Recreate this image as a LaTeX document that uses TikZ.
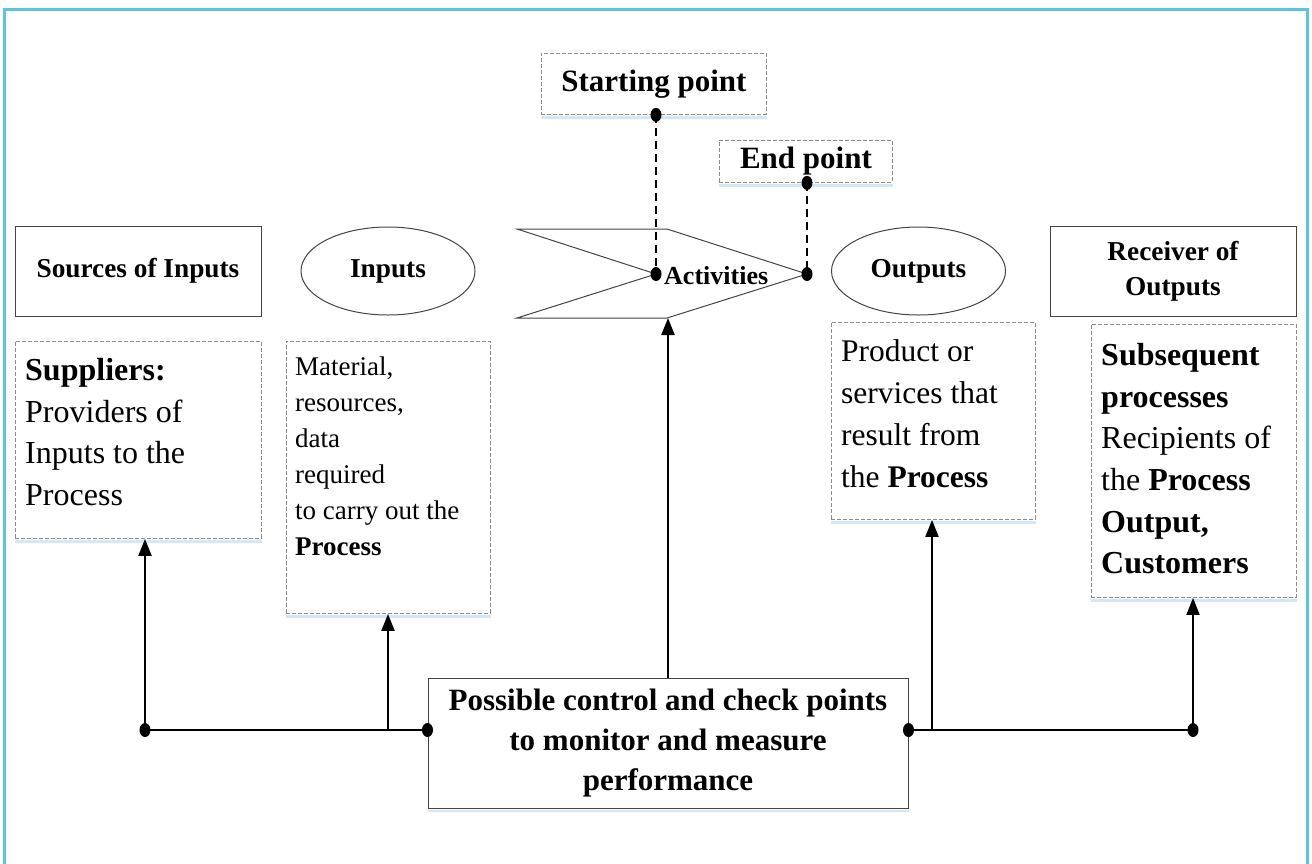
\documentclass[tikz,border=0pt]{standalone}
\usepackage{fontspec}
\setmainfont{Liberation Serif}
\usetikzlibrary{arrows.meta,shapes.geometric}
\definecolor{framecol}{HTML}{5BC5DB}
\definecolor{boxline}{HTML}{444444}
\definecolor{dashline}{HTML}{8C8C8C}
\definecolor{shadowcol}{HTML}{D5E6F4}
\begin{document}
\begin{tikzpicture}[x=1pt,y=-1pt,
  sbox/.style={draw=boxline, line width=1pt, inner sep=0pt, align=center},
  dbox/.style={draw=dashline, dash pattern=on 4pt off 2pt, line width=0.9pt, inner sep=0pt, anchor=north west},
  ell/.style={ellipse, draw=boxline, line width=1pt, minimum width=174pt, minimum height=88pt, inner sep=0pt},
  dot/.style={ellipse, fill=black, inner sep=0pt, minimum width=11pt, minimum height=14pt},
  conn/.style={line width=2.4pt},
  arr/.style={line width=2pt, -{Triangle[width=13pt,length=17pt]}},
  dline/.style={line width=2.2pt, dash pattern=on 8pt off 5pt},
  shd/.style={shadowcol, line width=2.5pt},
  txt/.style={anchor=north west, align=left, inner sep=0pt},
  hfont/.style={font=\fontsize{27.3}{35}\selectfont\bfseries},
  bfont/.style={font=\fontsize{31}{40}\selectfont\bfseries}]
\useasboundingbox (0,0) rectangle (1312,863);
\clip (0,0) rectangle (1312,863);
\draw[framecol, line width=3pt] (4.5,9.5) rectangle (1307.5,900);

% header row
\node[sbox, hfont, minimum width=246pt, minimum height=90pt] (src) at (138,271) {Sources of Inputs};
\node[ell, hfont] (inp) at (388,271) {Inputs};
\node[ell, hfont] (outp) at (918.5,271) {Outputs};
\node[sbox, hfont, minimum width=246pt, minimum height=90pt] (rcv) at (1173,271) {Receiver of\\Outputs};

% activities chevron
\coordinate (actA) at (517,229);
\coordinate (actB) at (667,229);
\coordinate (actC) at (807,274);
\coordinate (actD) at (667,318);
\coordinate (actE) at (517,318);
\coordinate (actF) at (656,274);
\draw[draw=boxline, line width=1pt] (actA) -- (actB) -- (actC) -- (actD) -- (actE) -- (actF) -- cycle;
\node[anchor=west, inner sep=0pt, font=\fontsize{26}{30}\selectfont\bfseries] (actl) at (664,276) {Activities};

% start / end boxes
\node[dbox, minimum width=225pt, minimum height=61pt] (spbox) at (541,53) {};
\node[bfont] (sptxt) at (spbox.center) {Starting point};
\node[dbox, minimum width=173pt, minimum height=42pt] (epbox) at (719,140) {};
\node[bfont] (eptxt) at (epbox.center) {End point};

% description boxes
\node[dbox, minimum width=246pt, minimum height=197pt] (supbox) at (15,341) {};
\node[txt, font=\fontsize{32}{41.7}\selectfont] (suptxt) at (25,358) {\textbf{Suppliers:}\\Providers of\\Inputs to the\\Process};
\node[dbox, minimum width=204pt, minimum height=272pt] (inbox) at (286,341) {};
\node[txt, font=\fontsize{27}{36}\selectfont] (intxt) at (295,357) {Material,\\resources,\\data\\required\\to carry out the\\\textbf{Process}};
\node[dbox, minimum width=204pt, minimum height=197pt] (outbox) at (831,322) {};
\node[txt, font=\fontsize{31.5}{42}\selectfont] (outtxt) at (841,339) {Product or\\services that\\result from\\the \textbf{Process}};
\node[dbox, minimum width=205pt, minimum height=273pt] (recbox) at (1091,324) {};
\node[txt, font=\fontsize{32}{41.7}\selectfont] (rectxt) at (1101,343) {\textbf{Subsequent}\\\textbf{processes}\\Recipients of\\the \textbf{Process}\\\textbf{Output,}\\\textbf{Customers}};

% control box
\node[sbox, bfont, minimum width=480pt, minimum height=130pt] (ctrl) at (668,743) {Possible control and check points\\to monitor and measure\\performance};

% soft shadows under boxes
\foreach \b in {spbox,epbox,supbox,inbox,outbox,recbox,ctrl}
  \draw[shd] ([yshift=-2.5pt]\b.south west) -- ([yshift=-2.5pt]\b.south east);

% start / end markers
\node[dot] (spd1) at (actF |- spbox.south) {};
\node[dot] (spd2) at (actF) {};
\node[dot] (epd1) at (actC |- epbox.south) {};
\node[dot] (epd2) at (actC) {};
\draw[dline] (spd1.center) -- (spd2.center);
\draw[dline] (epd1.center) -- (epd2.center);

% connectors
\node[dot] (d1) at (145,730) {};
\node[dot] (d2) at (ctrl.west |- d1) {};
\node[dot] (d3) at (ctrl.east |- d1) {};
\node[dot] (d4) at (1193,730) {};
\coordinate (j1) at (388,730);
\coordinate (j2) at (932,730);
\draw[conn] (d1.center) -- (d2.center);
\draw[conn] (d3.center) -- (d4.center);
\draw[arr] (d1.center) -- (d1.center |- supbox.south);
\draw[arr] (j1) -- (j1 |- inbox.south);
\draw[arr] (ctrl.north) -- (ctrl.north |- actD);
\draw[arr] (j2) -- (j2 |- outbox.south);
\draw[arr] (d4.center) -- (d4.center |- recbox.south);
\end{tikzpicture}
\end{document}
